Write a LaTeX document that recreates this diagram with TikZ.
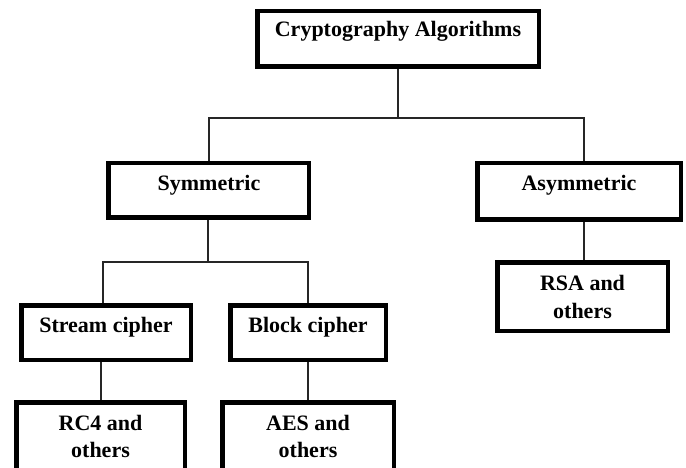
\documentclass[tikz,border=0pt]{standalone}
\usepackage{fontspec}
\setmainfont{Liberation Serif}
\begin{document}
\begin{tikzpicture}[x=1pt,y=-1pt,
  box/.style={draw=black, line width=3pt, rectangle, inner sep=0pt, fill=white},
  lbl/.style={font=\fontsize{22}{28}\selectfont\bfseries, anchor=base, inner sep=0pt},
  conn/.style={draw=black!85, line width=1.1pt}]
\useasboundingbox (0,0) rectangle (686,468);
\clip (0,0) rectangle (686,468);
% boxes
\node[box, minimum width=280pt, minimum height=54pt] (top) at (398,39) {};
\node[box, minimum width=199pt, minimum height=53pt] (sym) at (208.5,190.5) {};
\node[box, minimum width=202pt, minimum height=55pt] (asym) at (579,191.5) {};
\node[box, minimum width=168pt, minimum height=53pt] (stream) at (106,332.5) {};
\node[box, minimum width=154pt, minimum height=53pt] (block) at (308,332.5) {};
\node[box, minimum width=169pt, minimum height=67pt] (rsa) at (582.5,296.5) {};
\node[box, minimum width=167pt, minimum height=67pt] (rc4) at (100.5,436.5) {};
\node[box, minimum width=170pt, minimum height=67pt] (aes) at (308,436.5) {};
% labels
\node[lbl] (topT) at (398,37) {Cryptography Algorithms};
\node[lbl] (symT) at (209,190) {Symmetric};
\node[lbl] (asymT) at (579,190) {Asymmetric};
\node[lbl] (streamT) at (106,332) {Stream cipher};
\node[lbl] (blockT) at (308,332) {Block cipher};
\node[lbl] (rsaT1) at (582.5,290) {RSA and};
\node[lbl] (rsaT2) at (582.5,318) {others};
\node[lbl] (rc4T1) at (100.5,430) {RC4 and};
\node[lbl] (rc4T2) at (100.5,457) {others};
\node[lbl] (aesT1) at (308,430) {AES and};
\node[lbl] (aesT2) at (308,457) {others};
% junctions
\coordinate (j1) at (398,118);
\coordinate (j2) at (208,262);
% connectors
\draw[conn] (top.south) -- (j1);
\draw[conn] ([xshift=0.5pt]sym.north) |- (j1) -| ([xshift=5pt]asym.north);
\draw[conn] ([xshift=5pt]asym.south) -- ([xshift=5pt]asym.south |- rsa.north);
\draw[conn] ([xshift=-0.5pt]sym.south) -- (j2);
\draw[conn] ([xshift=-3pt]stream.north) |- (j2) -| (block.north);
\draw[conn] ([xshift=-5pt]stream.south) -- ([xshift=-5pt]stream.south |- rc4.north);
\draw[conn] (block.south) -- (aes.north);
% redraw box borders over connector ends
\foreach \n in {top,sym,asym,stream,block,rsa,rc4,aes}{
  \draw[line width=3pt] (\n.north west) rectangle (\n.south east);
}
\end{tikzpicture}
\end{document}
